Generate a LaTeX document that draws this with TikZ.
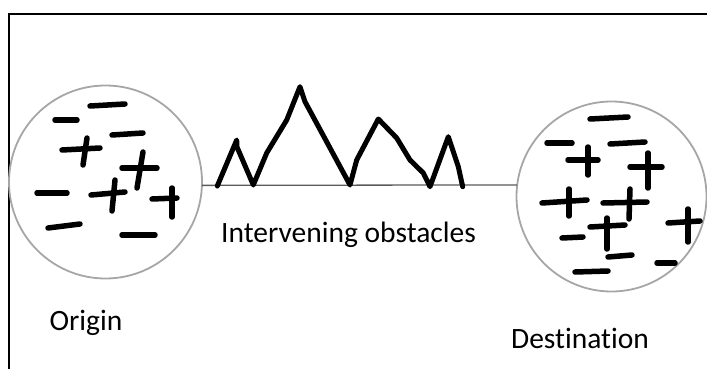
\documentclass[tikz,border=0pt]{standalone}
\usepackage{fontspec}
\setmainfont[Ligatures=NoCommon]{Carlito}
\usepackage{tikz}
\usetikzlibrary{calc}

\definecolor{rimgray}{HTML}{A6A6A6}
\definecolor{groundgray}{HTML}{595959}

\tikzset{
  region/.style={circle, draw=rimgray, line width=1.8pt, minimum size=193pt,
    inner sep=0pt, outer sep=0pt},
  ground/.style={groundgray, line width=1.3pt},
  ridge/.style={line width=5pt, line cap=round, line join=round},
  sign/.style={line width=5.5pt, line cap=round},
  label/.style={font=\fontsize{29.5}{34}\selectfont, inner sep=0pt, anchor=base}
}

\begin{document}
\begin{tikzpicture}[x=1pt,y=-1pt]

    \useasboundingbox (0,0) rectangle (707,369);

    % -- Frame (open at the bottom and on the right) --
    \draw[line width=2.2pt] (9,369) -- (9,14) -- (707,14);

    % -- Origin and destination regions --
    \node[region] (origin) at (105.5,182) {};
    \node[region, minimum size=190pt] (dest) at (611.5,196.5) {};

    % ground line between the two regions
    \draw[ground] (origin.-2.4) -- (dest.173.7);

    % -- Obstacles standing on the ground line --
    \draw[ridge] (217.3,186) -- (236.7,140) -- (237,147) -- (253.3,185)
        -- (266.7,153) -- (286.7,120) -- (300,86.7) -- (305,101.7)
        -- (350,185) -- (356.7,160) -- (378.3,119) -- (396.7,138)
        -- (410,160) -- (423.3,173) -- (430,186.7) -- (448.3,136.7)
        -- (458.3,166.7) -- (462.7,186.7);

    % -- Charges inside the origin --
    \draw[sign] (90,106) -- (125,104);
    \draw[sign] (55,120) -- (77,120);
    \draw[sign] (112,135) -- (143,133);
    \draw[sign] (62,150) -- (100,148);
    \draw[sign] (87,138) -- (83,165);
    \draw[sign] (122,168) -- (157,168);
    \draw[sign] (143,152) -- (137,188);
    \draw[sign] (37,193) -- (67,193);
    \draw[sign] (91,195) -- (125,192);
    \draw[sign] (115,180) -- (112,211);
    \draw[sign] (152,199) -- (177,198);
    \draw[sign] (172,188) -- (172,217);
    \draw[sign] (48,228) -- (80,224);
    \draw[sign] (122,235) -- (155,235);

    % -- Charges inside the destination --
    \draw[sign] (590,119) -- (628,117);
    \draw[sign] (547,143) -- (572,143);
    \draw[sign] (610,144) -- (645,142);
    \draw[sign] (568,160) -- (598,160);
    \draw[sign] (588,147) -- (588,175);
    \draw[sign] (630,167) -- (662,167);
    \draw[sign] (648,153) -- (648,188);
    \draw[sign] (542,203) -- (587,200);
    \draw[sign] (569,189) -- (569,216);
    \draw[sign] (603,203) -- (647,202);
    \draw[sign] (630,189) -- (629,219);
    \draw[sign] (590,227) -- (625,225);
    \draw[sign] (607,218) -- (607,249);
    \draw[sign] (562,238) -- (583,237);
    \draw[sign] (608,257) -- (632,255);
    \draw[sign] (668,223) -- (700,221);
    \draw[sign] (688,209) -- (688,242);
    \draw[sign] (575,272) -- (608,271);
    \draw[sign] (657,263) -- (675,263);

    % -- Labels --
    \node[label] (obstacles) at (348.5,242) {Intervening obstacles};
    \node[label] (originlabel) at (86,330) {Origin};
    \node[label] (destlabel) at (580,348) {Destination};

\end{tikzpicture}
\end{document}
